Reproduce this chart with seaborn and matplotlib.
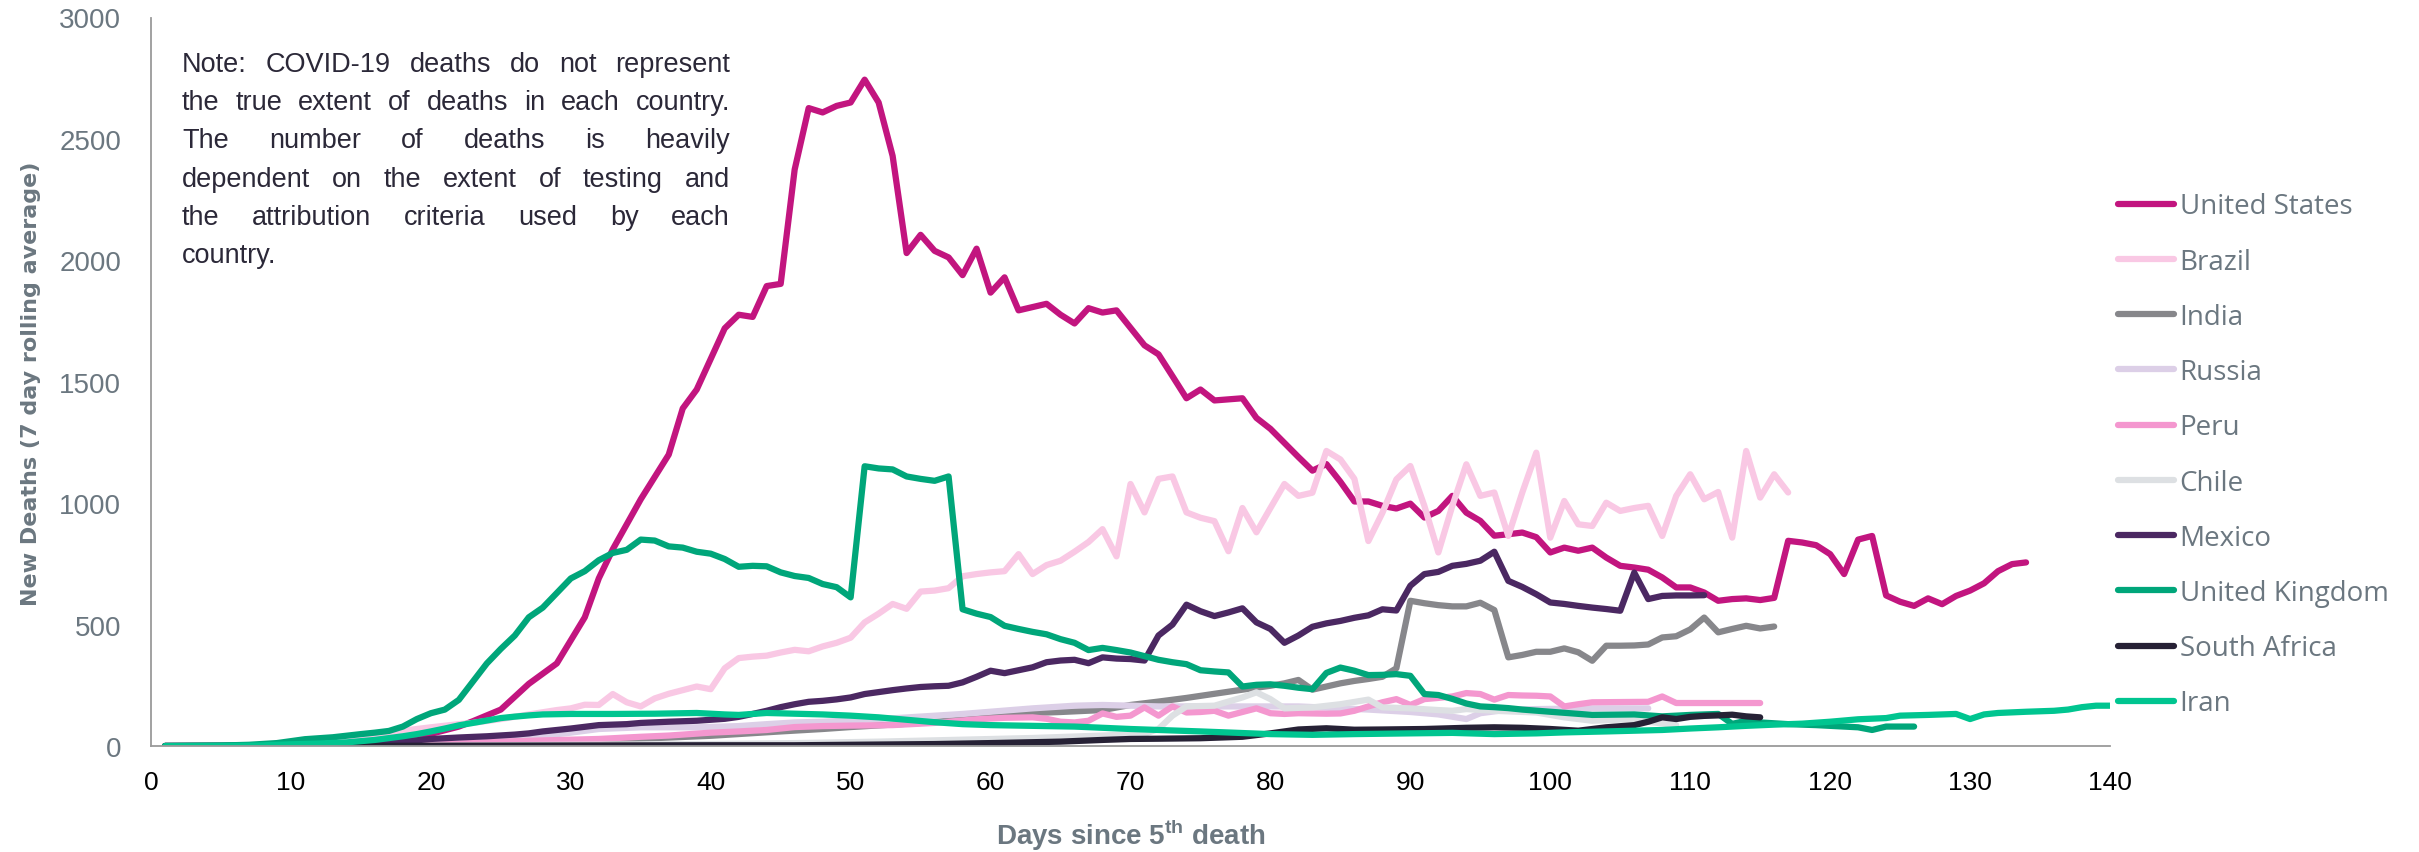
import matplotlib
matplotlib.use("Agg")
import matplotlib.pyplot as plt
import pandas as pd
import seaborn as sns
from matplotlib import font_manager

# ---------------------------------------------------------------- data
countries = ["United States", "Brazil", "India", "Russia", "Peru", "Chile",
             "Mexico", "United Kingdom", "South Africa", "Iran"]
colors = ["#c2157f", "#f9c8e4", "#87878b", "#dccfe7", "#f497cf", "#dde0e3",
          "#4b2862", "#00a67a", "#262135", "#00c590"]

# (day since 5th death, 7-day rolling average of new deaths)
united_states = [
    (1, 0), (5, 1), (10, 3), (15, 10), (18, 25), (20, 50), (22, 80), (23, 102), (25, 150), (27, 256),
    (29, 340), (31, 530), (32, 690), (33, 810), (35, 1016), (37, 1200), (38, 1390), (39, 1468), (41, 1720),
    (42, 1776), (43, 1767), (44, 1894), (45, 1903), (46, 2374), (47, 2627), (48, 2609), (49, 2636), (50, 2650),
    (51, 2744), (52, 2650), (53, 2430), (54, 2030), (55, 2105), (56, 2039), (57, 2012), (58, 1939), (59, 2048),
    (60, 1867), (61, 1930), (62, 1794), (64, 1821), (65, 1776), (66, 1740), (67, 1803), (68, 1785), (69, 1794),
    (70, 1722), (71, 1650), (72, 1613), (73, 1523), (74, 1432), (75, 1468), (76, 1423), (78, 1432), (79, 1351),
    (80, 1306), (82, 1190), (83, 1134), (84, 1161), (85, 1088), (86, 1007), (87, 1007), (88, 989), (89, 978),
    (90, 998), (91, 941), (92, 968), (93, 1030), (94, 961), (95, 927), (96, 866), (97, 872), (98, 879),
    (99, 860), (100, 797), (101, 817), (102, 804), (103, 817), (104, 776), (105, 742), (106, 735), (107, 726),
    (108, 694), (109, 653), (110, 653), (111, 632), (112, 598), (113, 605), (114, 608), (115, 601), (116, 610),
    (117, 845), (118, 838), (119, 827), (120, 790), (121, 708), (122, 850), (123, 865), (124, 620), (125, 594),
    (126, 577), (127, 608), (128, 584), (129, 618), (130, 640), (131, 670), (132, 720), (133, 749), (134, 756),
]
brazil = [
    (1, 0), (5, 1), (10, 5), (13, 15), (15, 40), (16, 48), (18, 63), (20, 77), (22, 90), (23, 95), (25, 111),
    (27, 130), (29, 148), (30, 155), (31, 170), (32, 169), (33, 214), (34, 180), (35, 163), (36, 196), (37, 215),
    (38, 230), (39, 245), (40, 234), (41, 320), (42, 362), (43, 368), (44, 372), (45, 385), (46, 396), (47, 390),
    (48, 410), (49, 425), (50, 446), (51, 509), (52, 545), (53, 585), (54, 565), (55, 636), (56, 640), (57, 650),
    (58, 699), (59, 708), (60, 715), (61, 720), (62, 790), (63, 708), (64, 745), (65, 763), (66, 800), (67, 840),
    (68, 893), (69, 781), (70, 1079), (71, 962), (72, 1100), (73, 1110), (74, 962), (75, 940), (76, 926),
    (77, 802), (78, 980), (79, 880), (80, 980), (81, 1079), (82, 1030), (83, 1043), (84, 1215), (85, 1180),
    (86, 1100), (87, 844), (88, 960), (89, 1098), (90, 1153), (91, 989), (92, 797), (93, 989), (94, 1160),
    (95, 1030), (96, 1044), (97, 865), (98, 1044), (99, 1208), (100, 858), (101, 1009), (102, 913), (103, 906),
    (104, 1002), (105, 968), (106, 980), (107, 989), (108, 865), (109, 1030), (110, 1119), (111, 1016),
    (112, 1046), (113, 858), (114, 1215), (115, 1023), (116, 1119), (117, 1044),
]
india = [
    (1, 0), (10, 1), (15, 2), (20, 5), (25, 12), (30, 20), (35, 30), (40, 42), (45, 60), (48, 70), (50, 78),
    (55, 95), (60, 118), (63, 136), (65, 140), (68, 148), (70, 169), (72, 183), (74, 198), (76, 215), (78, 232),
    (80, 248), (81, 258), (82, 272), (83, 232), (84, 245), (85, 258), (86, 268), (87, 276), (88, 285), (89, 320),
    (90, 598), (91, 588), (92, 580), (93, 575), (94, 575), (95, 590), (96, 560), (97, 365), (98, 375), (99, 388),
    (100, 388), (101, 402), (102, 386), (103, 351), (104, 413), (105, 413), (106, 414), (107, 418), (108, 447),
    (109, 452), (110, 480), (111, 529), (112, 468), (113, 482), (114, 495), (115, 484), (116, 492),
]
russia = [
    (1, 0), (10, 0), (15, 2), (20, 8), (25, 25), (27, 36), (30, 55), (32, 70), (35, 77), (39, 77), (42, 82),
    (44, 90), (46, 97), (48, 100), (50, 105), (53, 114), (58, 132), (63, 155), (66, 166), (68, 169), (72, 163),
    (77, 163), (82, 163), (87, 150), (90, 140), (92, 130), (94, 111), (95, 135), (97, 150), (99, 152),
    (103, 155), (107, 155),
]
peru = [
    (1, 0), (15, 1), (20, 5), (25, 18), (28, 23), (32, 29), (35, 38), (37, 43), (40, 55), (42, 60), (44, 66),
    (46, 78), (48, 82), (50, 84), (53, 86), (56, 95), (59, 110), (61, 116), (63, 118), (64, 112), (65, 100),
    (66, 97), (67, 104), (68, 134), (69, 120), (70, 125), (71, 159), (72, 125), (73, 163), (74, 138), (75, 140),
    (76, 145), (77, 125), (78, 140), (79, 155), (80, 135), (81, 132), (82, 135), (84, 133), (85, 134), (86, 145),
    (87, 163), (88, 180), (89, 193), (90, 169), (91, 193), (92, 198), (93, 204), (94, 218), (95, 214), (96, 191),
    (97, 210), (98, 208), (99, 207), (100, 204), (101, 163), (102, 172), (103, 180), (105, 181), (107, 182),
    (108, 204), (109, 177), (112, 177), (115, 177),
]
chile = [
    (1, 0), (20, 1), (30, 5), (40, 8), (46, 12), (52, 18), (58, 26), (63, 33), (68, 43), (71, 50), (72, 70),
    (73, 125), (74, 163), (76, 166), (78, 200), (79, 221), (80, 193), (81, 155), (83, 159), (85, 172), (87, 191),
    (88, 159), (90, 155), (92, 148), (93, 145), (94, 152), (96, 145), (99, 138), (101, 118), (103, 104),
    (106, 111), (107, 100), (109, 86),
]
mexico = [
    (1, 0), (5, 0), (10, 2), (13, 5), (15, 10), (18, 18), (20, 29), (22, 35), (24, 40), (26, 47), (27, 52),
    (28, 60), (30, 72), (32, 86), (34, 90), (35, 95), (37, 100), (39, 104), (41, 112), (42, 120), (43, 132),
    (44, 145), (45, 160), (46, 172), (47, 182), (48, 186), (49, 192), (50, 200), (51, 214), (52, 222), (53, 230),
    (54, 237), (55, 243), (56, 246), (57, 248), (58, 262), (59, 285), (60, 310), (61, 300), (62, 312), (63, 324),
    (64, 345), (65, 352), (66, 355), (67, 341), (68, 365), (69, 360), (70, 358), (71, 352), (72, 455), (73, 500),
    (74, 582), (75, 555), (76, 535), (77, 550), (78, 567), (79, 509), (80, 482), (81, 425), (82, 455), (83, 491),
    (84, 505), (85, 515), (86, 528), (87, 538), (88, 563), (89, 558), (90, 660), (91, 708), (92, 717), (93, 742),
    (94, 750), (95, 763), (96, 800), (97, 680), (98, 655), (99, 625), (100, 591), (101, 585), (102, 577),
    (103, 570), (104, 564), (105, 557), (106, 714), (107, 605), (108, 618), (109, 620), (110, 620), (111, 621),
]
united_kingdom = [
    (1, 0), (3, 1), (5, 2), (7, 5), (9, 12), (10, 20), (11, 28), (13, 36), (15, 49), (16, 55), (17, 62),
    (18, 80), (19, 111), (20, 135), (21, 150), (22, 190), (23, 265), (24, 340), (25, 400), (26, 455), (27, 530),
    (28, 570), (29, 630), (30, 690), (31, 720), (32, 765), (33, 795), (34, 808), (35, 850), (36, 846), (37, 822),
    (38, 817), (39, 800), (40, 792), (41, 770), (42, 738), (43, 742), (44, 740), (45, 715), (46, 700), (47, 692),
    (48, 667), (49, 654), (50, 612), (51, 1152), (52, 1143), (53, 1139), (54, 1110), (55, 1100), (56, 1092),
    (57, 1110), (58, 563), (59, 545), (60, 531), (61, 495), (62, 482), (63, 470), (64, 460), (65, 440), (66, 425),
    (67, 395), (68, 404), (69, 395), (70, 385), (71, 370), (72, 355), (73, 345), (74, 337), (75, 312), (76, 307),
    (77, 303), (78, 245), (79, 252), (80, 254), (81, 248), (82, 240), (83, 234), (84, 301), (85, 323), (86, 310),
    (87, 292), (88, 293), (89, 296), (90, 289), (91, 214), (92, 210), (93, 194), (94, 175), (95, 163), (96, 160),
    (97, 156), (98, 150), (100, 141), (103, 128), (106, 130), (108, 122), (110, 128), (112, 132), (113, 91),
    (114, 104), (115, 97), (117, 90), (119, 86), (121, 80), (122, 77), (123, 66), (124, 80), (126, 80),
]
south_africa = [
    (1, 0), (20, 1), (30, 2), (40, 3), (46, 3), (50, 5), (56, 8), (60, 12), (65, 18), (68, 25), (70, 29),
    (72, 30), (75, 32), (78, 38), (80, 52), (82, 68), (84, 73), (86, 67), (88, 68), (91, 70), (94, 75), (96, 77),
    (98, 75), (100, 70), (102, 63), (104, 77), (106, 86), (107, 100), (108, 118), (109, 111), (110, 120),
    (111, 124), (112, 126), (113, 129), (114, 122), (115, 118),
]
iran = [
    (1, 0), (5, 1), (8, 3), (10, 7), (12, 10), (14, 15), (16, 25), (18, 40), (19, 49), (20, 60), (21, 72),
    (22, 85), (23, 95), (24, 105), (25, 115), (26, 121), (27, 126), (28, 130), (30, 132), (33, 132), (36, 133),
    (39, 136), (41, 130), (42, 128), (44, 136), (46, 133), (48, 130), (50, 125), (52, 118), (54, 108), (56, 98),
    (58, 90), (60, 86), (63, 83), (66, 80), (70, 70), (75, 60), (80, 49), (83, 46), (86, 49), (90, 52), (93, 54),
    (96, 49), (99, 52), (101, 56), (104, 60), (106, 63), (108, 66), (110, 72), (112, 77), (114, 83), (116, 88),
    (118, 92), (120, 100), (122, 110), (124, 115), (125, 125), (127, 128), (129, 132), (130, 111), (131, 130),
    (132, 136), (134, 141), (136, 145), (137, 150), (138, 160), (139, 166), (140, 166),
]

series = [united_states, brazil, india, russia, peru, chile, mexico,
          united_kingdom, south_africa, iran]

x_ticks = list(range(0, 141, 10))
y_ticks = list(range(0, 3001, 500))

note_lines = [
    "Note: COVID-19 deaths do not represent",
    "the true extent of deaths in each country.",
    "The number of deaths is heavily",
    "dependent on the extent of testing and",
    "the attribution criteria used by each",
    "country.",
]

# ---------------------------------------------------------------- fonts
installed = {f.name for f in font_manager.fontManager.ttflist}


def pick(*names):
    for n in names:
        if n in installed:
            return n
    return "DejaVu Sans"


SANS = pick("Liberation Sans", "Arial", "DejaVu Sans")
LEGEND_FONT = pick("Open Sans", "Noto Sans", "DejaVu Sans")
YLABEL_FONT = pick("DejaVu Sans")

sns.set_theme(style="white")
plt.rcParams["font.family"] = [SANS, "DejaVu Sans"]
plt.rcParams["mathtext.fontset"] = "custom"
plt.rcParams["mathtext.rm"] = SANS
plt.rcParams["mathtext.bf"] = SANS + ":bold"

LABEL_GREY = "#6b7780"

# ---------------------------------------------------------------- frame
rows = []
for name, pts in zip(countries, series):
    for d, v in pts:
        rows.append({"day": d, "deaths": v, "country": name})
df = pd.DataFrame(rows)

W_PX, H_PX, DPI = 2419, 853, 100
fig = plt.figure(figsize=(W_PX / DPI, H_PX / DPI), dpi=DPI)
ax_left, ax_right, ax_top, ax_bottom = 151, 2110, 18.5, 747
ax = fig.add_axes([ax_left / W_PX, 1 - ax_bottom / H_PX,
                   (ax_right - ax_left) / W_PX, (ax_bottom - ax_top) / H_PX])

sns.lineplot(data=df, x="day", y="deaths", hue="country", hue_order=countries,
             palette=colors, linewidth=4.5, estimator=None, sort=True, ax=ax,
             solid_capstyle="round", solid_joinstyle="round")

ax.set_xlim(0, 140)
ax.set_ylim(0, 3000)
ax.set_xticks(x_ticks)
ax.set_yticks(y_ticks)
ax.set_xticklabels([str(t) for t in x_ticks])
ax.set_yticklabels([str(t) for t in y_ticks])
ax.tick_params(axis="x", length=0, pad=17, labelsize=19, labelcolor="#000000")
ax.tick_params(axis="y", length=0, pad=21.5, labelsize=20, labelcolor=LABEL_GREY)

for side in ("top", "right"):
    ax.spines[side].set_visible(False)
for side in ("left", "bottom"):
    ax.spines[side].set_color("#9a9a9a")
    ax.spines[side].set_linewidth(1.3)
ax.grid(False)

ax.set_xlabel(r"Days since 5$^{\mathbf{th}}$ death", fontsize=20, fontweight="bold",
              color=LABEL_GREY)
ax.xaxis.label.set_verticalalignment("center")
ax.xaxis.set_label_coords(0.5, (ax_bottom - 835) / (ax_bottom - ax_top))

ax.set_ylabel("New Deaths (7 day rolling average)", fontsize=16, fontweight="bold",
              color=LABEL_GREY, family=YLABEL_FONT)
ax.yaxis.label.set_verticalalignment("center")
ax.yaxis.set_label_coords((31 - ax_left) / (ax_right - ax_left),
                          (ax_bottom - 384) / (ax_bottom - ax_top))

# legend on the right, one row per country
handles, labels = ax.get_legend_handles_labels()
if ax.get_legend() is not None:
    ax.get_legend().remove()
leg = ax.legend(handles, labels, loc="center left",
                bbox_to_anchor=(2118 / W_PX, 1 - 456 / H_PX),
                bbox_transform=fig.transFigure, frameon=False, borderpad=0,
                borderaxespad=0, handlelength=2.0, handletextpad=0.22,
                labelspacing=0.98, prop={"family": LEGEND_FONT, "size": 20})
for line in leg.get_lines():
    line.set_linewidth(4.5)
    line.set_solid_capstyle("round")
for txt in leg.get_texts():
    txt.set_color(LABEL_GREY)

# justified note block in the upper left
NOTE_LEFT, NOTE_RIGHT = 182, 730
NOTE_BASE, NOTE_STEP = 72, 38.2
note_kw = dict(fontsize=19.5, family=SANS, color="#2b2838", va="baseline", ha="left")
fig.canvas.draw()
renderer = fig.canvas.get_renderer()
probe_a = fig.text(0, 0, "a a", **note_kw)
probe_b = fig.text(0, 0, "aa", **note_kw)
space_w = (probe_a.get_window_extent(renderer).width
           - probe_b.get_window_extent(renderer).width)
probe_a.remove()
probe_b.remove()
for i, line in enumerate(note_lines):
    words = line.split()
    y = 1 - (NOTE_BASE + i * NOTE_STEP) / H_PX
    texts = [fig.text(0, y, w, **note_kw) for w in words]
    widths = [t.get_window_extent(renderer).width for t in texts]
    if i == len(note_lines) - 1 or len(words) == 1:
        gap = space_w
    else:
        gap = (NOTE_RIGHT - NOTE_LEFT - sum(widths)) / (len(words) - 1)
    x = NOTE_LEFT
    for t, w in zip(texts, widths):
        t.set_x(x / W_PX)
        x += w + gap

fig.savefig("out.png", dpi=DPI, facecolor="white")
